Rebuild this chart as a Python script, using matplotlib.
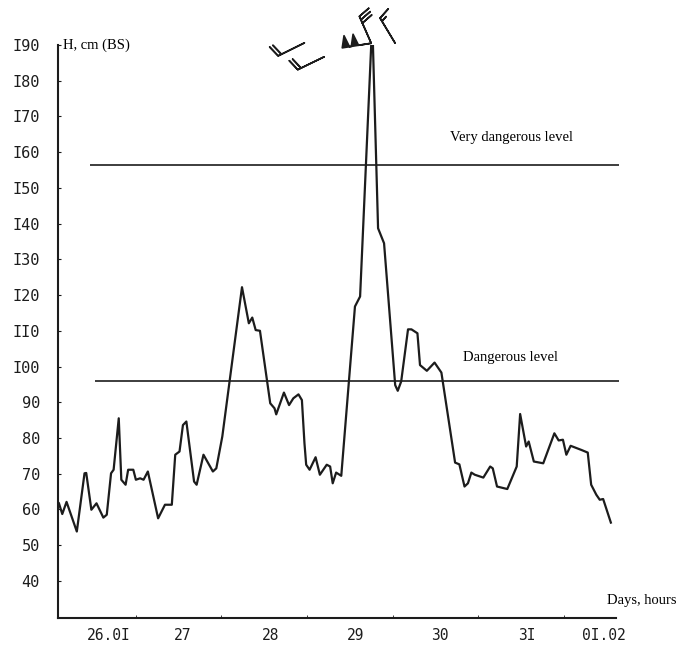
import numpy as np
import matplotlib.pyplot as plt

# Sea level record (days of January / February), H in cm (BS)
days = [26.07, 26.10, 26.14, 26.19, 26.31, 26.40, 26.42, 26.48, 26.54, 26.62,
        26.66, 26.71, 26.74, 26.80, 26.83, 26.88, 26.91, 26.97, 27.00, 27.05,
        27.09, 27.14, 27.26, 27.34, 27.42, 27.46, 27.51, 27.55, 27.59, 27.68,
        27.71, 27.79, 27.90, 27.94, 28.01, 28.24, 28.32, 28.36, 28.40, 28.45,
        28.57, 28.62, 28.64, 28.73, 28.79, 28.84, 28.90, 28.94, 28.97, 28.99,
        29.03, 29.10, 29.15, 29.23, 29.27, 29.30, 29.34, 29.40, 29.56, 29.62,
        29.75, 29.77, 29.83, 29.90, 30.03, 30.06, 30.10, 30.18, 30.22, 30.29,
        30.32, 30.40, 30.49, 30.57, 30.73, 30.78, 30.84, 30.88, 30.92, 30.96,
        31.06, 31.14, 31.17, 31.22, 31.34, 31.45, 31.49, 31.56, 31.59, 31.65,
        31.76, 31.89, 31.94, 31.99, 32.03, 32.08, 32.21, 32.28, 32.32, 32.38,
        32.42, 32.46, 32.55]
level = [62.2, 61.8, 58.7, 62.1, 53.8, 70.1, 70.2, 59.9, 61.7, 57.7,
         58.5, 70.1, 71.1, 85.5, 68.3, 66.9, 71.1, 71.1, 68.3, 68.7,
         68.3, 70.6, 57.5, 61.3, 61.3, 75.3, 76.2, 83.6, 84.6, 67.8,
         66.9, 75.3, 70.6, 71.5, 80.4, 122.2, 112.1, 113.7, 110.2, 110.0,
         89.7, 88.3, 86.6, 92.7, 89.2, 91.1, 92.2, 90.6, 78.5, 72.5,
         71.1, 74.6, 69.7, 72.5, 72.0, 67.3, 70.3, 69.4, 116.8, 119.6,
         190.0, 190.0, 138.7, 134.5, 94.8, 93.2, 95.8, 110.4, 110.4, 109.3,
         100.4, 98.8, 101.1, 98.3, 73.1, 72.6, 66.4, 67.3, 70.3, 69.7,
         68.9, 72.0, 71.5, 66.4, 65.7, 72.0, 86.7, 77.6, 79.0, 73.4,
         72.9, 81.3, 79.3, 79.5, 75.3, 77.8, 76.6, 75.9, 66.9, 64.1,
         62.7, 62.9, 56.3]

# Warning levels
very_dangerous = 156.4
dangerous = 96.0

# Wind observations drawn above the peak
wind_day = [28.97, 29.20, 29.75, 29.75, 30.03]
wind_h = [190.6, 186.7, 190.5, 190.5, 190.5]
wind_dir = [26.3, 26.0, 9.1, -66.3, -59.0]
wind_speed = [20, 20, 100, 30, 15]

# Axis labels
y_ticks = list(range(40, 200, 10))
y_labels = ['40', '50', '60', '70', '80', '90', 'I00', 'II0',
            'I20', 'I30', 'I40', 'I50', 'I60', 'I70', 'I80', 'I90']
day_labels = ['26.0I', '27', '28', '29', '30', '3I', '0I.02']
day_label_pos = [26.68, 27.55, 28.57, 29.57, 30.55, 31.57, 32.47]
day_bounds = [27, 28, 29, 30, 31, 32]

ink = '#1c1c1c'
fig = plt.figure(figsize=(6.79, 6.45), dpi=100)
ax = fig.add_axes([0.0854, 0.0419, 0.8218, 0.8883])

# Water level curve
ax.plot(days, level, color=ink, lw=1.6)

# Warning lines
ax.hlines(very_dangerous, 26.46, 32.64, color=ink, lw=1.2, clip_on=False)
ax.hlines(dangerous, 26.52, 32.64, color=ink, lw=1.2, clip_on=False)

# Wind barbs
rad = np.radians(wind_dir)
u = np.array(wind_speed) * np.cos(rad)
v = np.array(wind_speed) * np.sin(rad)
ax.barbs(wind_day, wind_h, u, v, length=6.5, color=ink, lw=1.2, clip_on=False)

serif = 'Liberation Serif'
ax.text(26.15, 190, 'H, cm (BS)', family=serif, fontsize=10.5, va='center')
ax.text(30.67, 164, 'Very dangerous level', family=serif, fontsize=10.5, va='center')
ax.text(30.82, 102.4, 'Dangerous level', family=serif, fontsize=10.5, va='center')
ax.text(32.50, 34.4, 'Days, hours', family=serif, fontsize=10.5, va='center',
        clip_on=False)

ax.set_xlim(26.09, 32.61)
ax.set_ylim(29.6, 190)

ax.spines['top'].set_visible(False)
ax.spines['right'].set_visible(False)
ax.spines['left'].set_linewidth(1.5)
ax.spines['bottom'].set_linewidth(1.5)
ax.spines['left'].set_color(ink)
ax.spines['bottom'].set_color(ink)

mono = 'DejaVu Sans Mono'
ax.set_yticks(y_ticks)
ax.set_yticklabels(y_labels, family=mono, fontsize=11, color=ink)
ax.tick_params(axis='y', direction='in', length=2, pad=13, color=ink)

ax.set_xticks(day_bounds, minor=True)
ax.set_xticks(day_label_pos)
ax.set_xticklabels(day_labels, family=mono, fontsize=10.5, color=ink)
ax.tick_params(axis='x', which='major', length=0, pad=7)
ax.tick_params(axis='x', which='minor', direction='in', length=2, color=ink)

fig.savefig('out.png', dpi=100)
